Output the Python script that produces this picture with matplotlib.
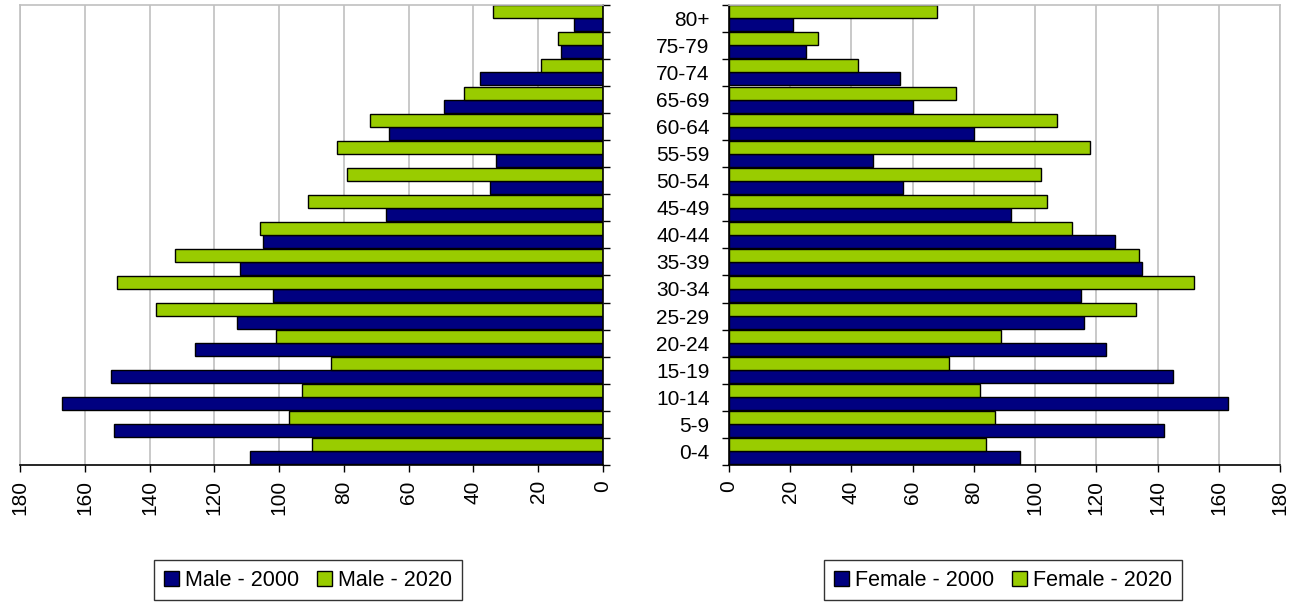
import numpy as np
import matplotlib
matplotlib.use('Agg')
import matplotlib.pyplot as plt
from matplotlib.patches import Patch

plt.rcParams['font.family'] = ['Liberation Sans', 'DejaVu Sans']

# age groups, bottom to top
ages = ['0-4', '5-9', '10-14', '15-19', '20-24', '25-29', '30-34', '35-39',
        '40-44', '45-49', '50-54', '55-59', '60-64', '65-69', '70-74', '75-79', '80+']

male_2000 = [109, 151, 167, 152, 126, 113, 102, 112, 105, 67, 35, 33, 66, 49, 38, 13, 9]
male_2020 = [90, 97, 93, 84, 101, 138, 150, 132, 106, 91, 79, 82, 72, 43, 19, 14, 34]
female_2000 = [95, 142, 163, 145, 123, 116, 115, 135, 126, 92, 57, 47, 80, 60, 56, 25, 21]
female_2020 = [84, 87, 82, 72, 89, 133, 152, 134, 112, 104, 102, 118, 107, 74, 42, 29, 68]

xticks = [0, 20, 40, 60, 80, 100, 120, 140, 160, 180]

navy = '#000080'
green = '#99cc00'
grid_c = '#c0c0c0'

fig = plt.figure(figsize=(12.95, 6.03), dpi=100)
ax_m = fig.add_axes([20 / 1295, 0.229, 583 / 1295, 0.763])
ax_f = fig.add_axes([729 / 1295, 0.229, 551 / 1295, 0.763])

y = np.arange(len(ages))
h = 0.48


def style_axis(ax, side):
    ax.set_xlim(0, 180)
    ax.set_ylim(-0.5, len(ages) - 0.5)
    ax.set_xticks(xticks)
    ax.set_xticklabels([str(t) for t in xticks], rotation=90, fontsize=15)
    ax.xaxis.grid(True, color=grid_c, lw=1.2)
    ax.set_axisbelow(True)
    # ticks on the band edges, labels in the middle
    ax.set_yticks(np.arange(len(ages) + 1) - 0.5)
    ax.set_yticklabels([])
    ax.set_yticks(y, minor=True)
    ax.tick_params(axis='both', which='major', direction='out', length=5, width=1, colors='black')
    ax.tick_params(axis='x', which='major', pad=6)
    ax.tick_params(axis='y', which='minor', length=0)
    for s in ax.spines.values():
        s.set_color(grid_c)
        s.set_linewidth(1.2)
    ax.spines['bottom'].set_color('black')
    ax.spines[side].set_color('black')


# male side
ax_m.barh(y - h / 2, male_2000, height=h, color=navy, edgecolor='black', lw=1)
ax_m.barh(y + h / 2, male_2020, height=h, color=green, edgecolor='black', lw=1)
style_axis(ax_m, 'right')
ax_m.invert_xaxis()
ax_m.yaxis.tick_right()
ax_m.yaxis.set_ticks_position('right')

# female side
ax_f.barh(y - h / 2, female_2000, height=h, color=navy, edgecolor='black', lw=1)
ax_f.barh(y + h / 2, female_2020, height=h, color=green, edgecolor='black', lw=1)
style_axis(ax_f, 'left')
ax_f.set_yticklabels(ages, minor=True, fontsize=15)
ax_f.tick_params(axis='y', which='minor', pad=14)

# legends
def add_legend(labels, cx):
    handles = [Patch(facecolor=navy, edgecolor='black'), Patch(facecolor=green, edgecolor='black')]
    fig.legend(handles, labels, loc='center', bbox_to_anchor=(cx, 0.038), ncol=2,
               fontsize=15.5, frameon=True, fancybox=False, edgecolor='black',
               handlelength=0.7, handleheight=0.7, handletextpad=0.3,
               columnspacing=0.8, borderpad=0.45)

add_legend(['Male - 2000', 'Male - 2020'], 308 / 1295)
add_legend(['Female - 2000', 'Female - 2020'], 1003 / 1295)

fig.savefig('out.png', dpi=100)
